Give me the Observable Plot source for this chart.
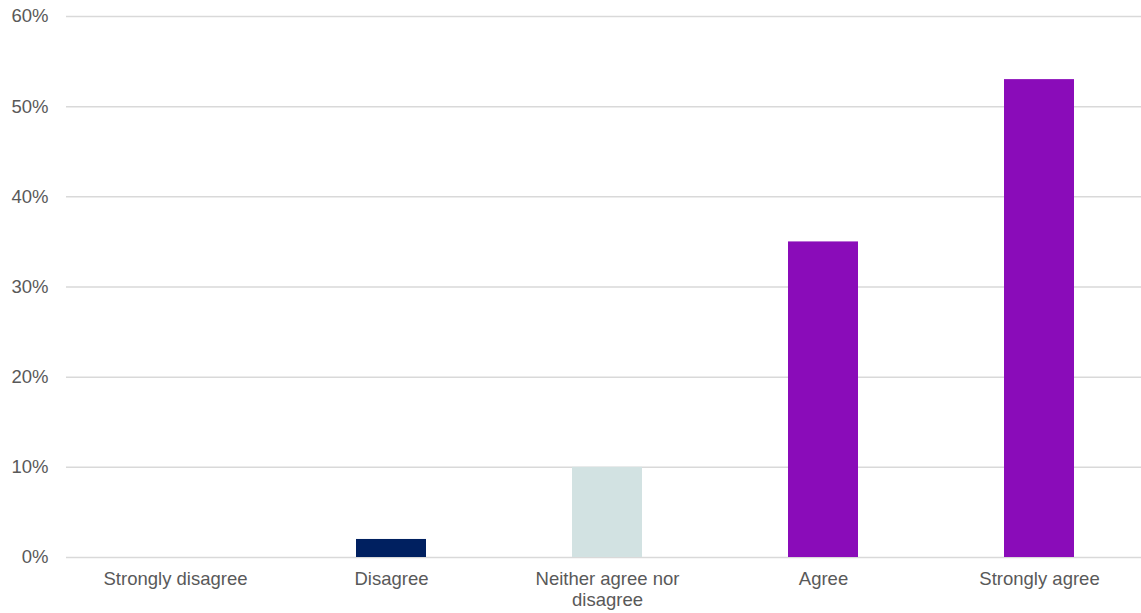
<!DOCTYPE html>
<html>
<head>
<meta charset="utf-8">
<script src="https://cdn.jsdelivr.net/npm/d3@7"></script>
<script src="https://cdn.jsdelivr.net/npm/@observablehq/plot@0.6"></script>
<style>
  html, body { margin: 0; padding: 0; background: #fff; }
  #chart svg { display: block; }
</style>
</head>
<body>
<div id="chart"></div>
<script>
const categories = ["Strongly disagree", "Disagree", "Neither agree nor disagree", "Agree", "Strongly agree"];
const values = [0, 0.02, 0.10, 0.35, 0.53];
const tickLabels = ["Strongly disagree", "Disagree", "Neither agree nor\ndisagree", "Agree", "Strongly agree"];
const yTicks = [0, 0.1, 0.2, 0.3, 0.4, 0.5, 0.6];

const barColors = ["#002060", "#002060", "#d2e2e2", "#8a0cb9", "#8a0cb9"];

const data = categories.map((c, i) => ({category: c, value: values[i]}));
const labelOf = new Map(categories.map((c, i) => [c, tickLabels[i]]));

const chart = Plot.plot({
  width: 1141,
  height: 613,
  marginTop: 16,
  marginBottom: 56,
  marginLeft: 66,
  marginRight: 0,
  style: {fontFamily: "'Liberation Sans', Arial, sans-serif", fontSize: "18.5px", color: "#595959", background: "#fff"},
  x: {domain: categories, range: [66, 1147], paddingInner: 0.676, paddingOuter: 0.338},
  y: {domain: [0, 0.6]},
  color: {domain: categories, range: barColors},
  marks: [
    Plot.gridY(yTicks, {stroke: "#d9d9d9", strokeOpacity: 1, strokeWidth: 1.5}),
    Plot.barY(data.filter(d => d.value > 0), {x: "category", y: "value", fill: "category"}),
    Plot.axisY(yTicks, {tickSize: 0, tickPadding: 18, tickFormat: d3.format(".0%"), fill: "#595959", fontSize: 18.5, label: null}),
    Plot.axisX({tickSize: 0, tickPadding: 13, tickFormat: d => labelOf.get(d), fill: "#595959", fontSize: 18.5, lineHeight: 1.13, label: null})
  ]
});
document.getElementById("chart").appendChild(chart);
</script>
</body>
</html>
